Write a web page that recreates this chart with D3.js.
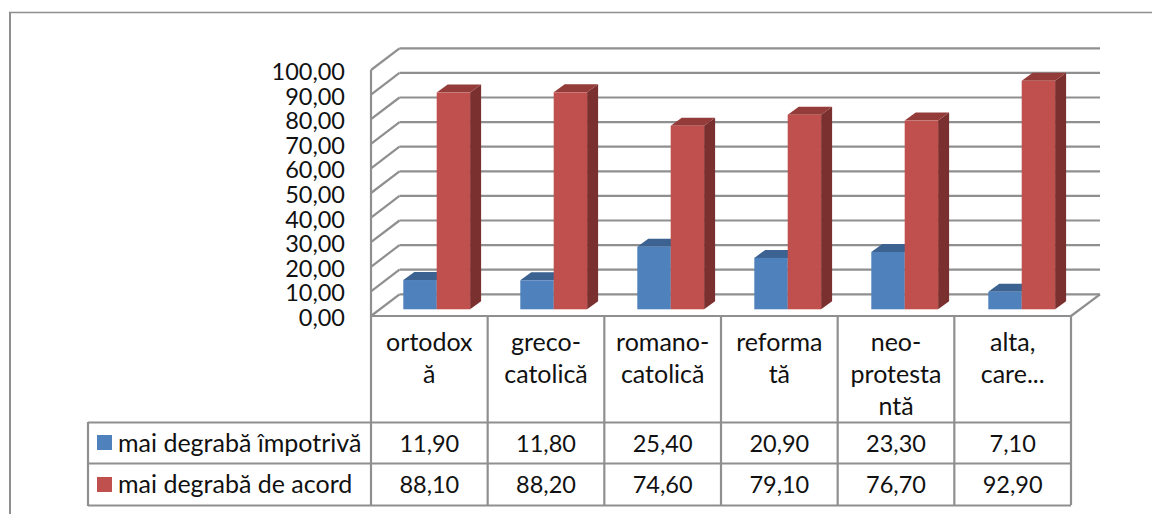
<!DOCTYPE html>
<html><head><meta charset="utf-8">
<script src="https://cdn.jsdelivr.net/npm/d3@7"></script>
<style>html,body{margin:0;padding:0;background:#fff}svg{display:block}text{font-family:Lato,"Noto Sans",sans-serif;fill:#111}</style>
</head><body><svg id="c" width="1152" height="514"></svg>
<script>
const categories = [["ortodox","ă"],["greco-","catolică"],["romano-","catolică"],["reforma","tă"],["neo-","protesta","ntă"],["alta,","care..."]];
const seriesNames = ["mai degrabă împotrivă","mai degrabă de acord"];
const against = [11.90,11.80,25.40,20.90,23.30,7.10];
const agree = [88.10,88.20,74.60,79.10,76.70,92.90];
const colors = [{front:"#4f81bd",top:"#3b6290",side:"#335680"},{front:"#c0504d",top:"#943c39",side:"#7a302e"}];
const tickValues = [0,10,20,30,40,50,60,70,80,90,100];

const fmt = v => v.toFixed(2).replace(".",",");
const svg = d3.select("#c");
const gray = "#8f8f8f";
const line = (g,x1,y1,x2,y2,w=2.2) => g.append("line").attr("x1",x1).attr("y1",y1).attr("x2",x2).attr("y2",y2).attr("stroke",gray).attr("stroke-width",w);

// outer frame
const frame = svg.append("g");
line(frame,10,12,10,514,2);
line(frame,9,12.5,1152,12.5,1.5);

const y = d3.scaleLinear().domain([0,100]).range([316,70]);
const x = d3.scaleBand().domain(d3.range(categories.length)).range([371,1071]);
const xBars = d3.scaleBand().domain(d3.range(categories.length)).range([371,1073]);
const depthX = 28.5, depthY = -21.7;

// walls
const wall = svg.append("g");
tickValues.forEach(t=>{
  line(wall,371,y(t),371+depthX,y(t)+depthY);
  line(wall,371+depthX,y(t)+depthY,1100,y(t)+depthY);
});
line(wall,1071,316,1100,316+depthY);
line(wall,371,316,1071,316);
line(wall,371,70,371,505);

// axis labels
const axis = d3.axisLeft(y).tickValues(tickValues).tickFormat(fmt).tickSize(0).tickPadding(0);
const ax = svg.append("g").attr("transform","translate(345,1)").call(axis);
ax.select(".domain").remove();
ax.selectAll("text").attr("font-size",23.5).style("font-family",'Lato,"Noto Sans",sans-serif').attr("dy","0.36em").attr("fill","#111");

// bars
const sub = d3.scaleBand().domain([0,1]).range([32.3,99.1]);
const bx = 11, by = -8, baseY = -6.7;
const bars = svg.append("g");
[against,agree].forEach((vals,s)=>{
  vals.forEach((v,i)=>{
    const x0 = xBars(i)+sub(s), x1 = x0+sub.bandwidth();
    const yb = y(0)+baseY, yt = y(v)+baseY;
    const c = colors[s];
    const poly = pts => bars.append("polygon").attr("points",pts.map(p=>p.join(",")).join(" "));
    poly([[x1,yb],[x1+bx,yb+by],[x1+bx,yt+by],[x1,yt]]).attr("fill",c.side);
    poly([[x0,yt],[x0+bx,yt+by],[x1+bx,yt+by],[x1,yt]]).attr("fill",c.top);
    bars.append("rect").attr("x",x0).attr("y",yt).attr("width",x1-x0).attr("height",yb-yt).attr("fill",c.front);
  });
});

// data table
const t = svg.append("g");
const rows = [422.5,463.5,505.5];
rows.forEach(r=>line(t,88,r,1071,r));
line(t,88,422,88,506);
d3.range(1,7).forEach(i=>line(t,x(0)+x.step()*i,316,x(0)+x.step()*i,505));
categories.forEach((lines,i)=>{
  lines.forEach((l,k)=>{
    t.append("text").attr("x",x(i)+x.step()/2).attr("y",351+k*32).attr("text-anchor","middle").attr("font-size",25).text(l);
  });
});
[against,agree].forEach((vals,s)=>{
  const base = [452,493][s];
  t.append("rect").attr("x",97).attr("y",[435,477][s]).attr("width",15).attr("height",15).attr("fill",colors[s].front);
  t.append("text").attr("x",118).attr("y",base).attr("font-size",25).text(seriesNames[s]);
  vals.forEach((v,i)=>{
    t.append("text").attr("x",x(i)+x.step()/2).attr("y",base).attr("text-anchor","middle").attr("font-size",23.5).text(fmt(v));
  });
});
</script></body></html>
